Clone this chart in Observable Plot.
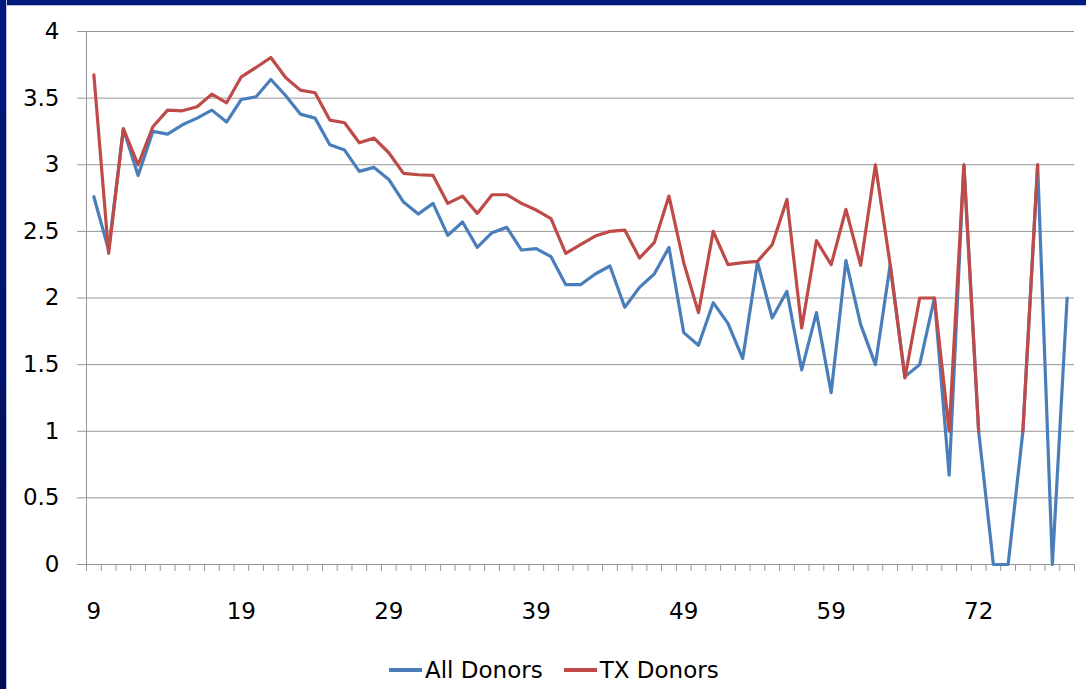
<!DOCTYPE html>
<html>
<head>
<meta charset="utf-8">
<script src="https://cdn.jsdelivr.net/npm/d3@7"></script>
<script src="https://cdn.jsdelivr.net/npm/@observablehq/plot@0.6"></script>
<style>
  html, body { margin: 0; padding: 0; background: #ffffff; width: 1086px; height: 689px; overflow: hidden; font-family: "DejaVu Sans", sans-serif; }
  #chart { position: absolute; left: 0; top: 0; }
  #topbar { position: absolute; left: 0; top: 0; width: 1086px; height: 5px; background: #021a80; border-bottom: 1px solid #b8bfd6; z-index: 5; }
  #leftbar { position: absolute; left: 0; top: 0; width: 6px; height: 689px; background: linear-gradient(#021a80, #000c55); border-right: 1px solid #b8bfd6; z-index: 5; }
  #legend { position: absolute; left: 389px; top: 657px; display: flex; align-items: center; font-size: 23px; color: #000; white-space: nowrap; }
  .sw { display: inline-block; width: 33px; height: 4px; margin-right: 3px; }
  .item { display: flex; align-items: center; }
</style>
</head>
<body>
<div id="chart"></div>
<div id="topbar"></div>
<div id="leftbar"></div>
<div id="legend">
  <div class="item"><span class="sw" style="background:#4A7EBB"></span><span>All Donors</span></div>
  <div class="item" style="margin-left:21px"><span class="sw" style="background:#BE4B48"></span><span>TX Donors</span></div>
</div>
<script>
// Category labels (ages); only every 10th is shown on the axis
const categories = [
  9,10,11,12,13,14,15,16,17,18,
  19,20,21,22,23,24,25,26,27,28,
  29,30,31,32,33,34,35,36,37,38,
  39,40,41,42,43,44,45,46,47,48,
  49,50,51,52,53,54,55,56,57,58,
  59,60,61,62,63,64,65,66,67,69,
  72,73,74,75,76,77,78
];
const allDonors = [
  2.76,2.36,3.27,2.92,3.25,3.23,3.30,3.35,3.41,3.32,
  3.49,3.51,3.64,3.52,3.38,3.35,3.15,3.11,2.95,2.98,
  2.89,2.72,2.63,2.71,2.47,2.57,2.38,2.49,2.53,2.36,
  2.37,2.31,2.10,2.10,2.18,2.24,1.93,2.08,2.18,2.38,
  1.74,1.645,1.965,1.81,1.545,2.27,1.85,2.05,1.46,1.89,
  1.29,2.28,1.80,1.50,2.25,1.41,1.50,2.00,0.67,3.00,
  1.00,0,0,1.00,3.00,0,2.00
];
const txDonors = [
  3.675,2.335,3.27,3.00,3.285,3.41,3.405,3.435,3.53,3.465,
  3.66,3.73,3.805,3.655,3.56,3.54,3.335,3.315,3.165,3.20,
  3.09,2.935,2.925,2.92,2.71,2.765,2.635,2.775,2.775,2.71,
  2.66,2.595,2.335,2.40,2.465,2.50,2.51,2.30,2.415,2.765,
  2.265,1.89,2.50,2.25,2.265,2.275,2.40,2.74,1.775,2.43,
  2.25,2.665,2.245,3.00,2.25,1.40,2.00,2.00,1.00,3.00,
  1.00,null,null,1.00,3.00,null,null
];
const yTicks = [0,0.5,1,1.5,2,2.5,3,3.5,4];
const xLabelIdx = [0,10,20,30,40,50,60];

const rows = categories.map((c, i) => ({i, cat: c, all: allDonors[i], tx: txDonors[i] == null ? NaN : txDonors[i]}));
const n = categories.length;
const boundaries = d3.range(n + 1).map(k => k - 0.5);
const gridColor = "#969696";

const plot = Plot.plot({
  width: 1086,
  height: 640,
  marginLeft: 86,
  marginRight: 12,
  marginTop: 31,
  marginBottom: 76,
  style: {fontFamily: "DejaVu Sans, sans-serif", fontSize: "23px", background: "transparent", color: "#000"},
  x: {type: "linear", domain: [-0.5, n - 0.5], axis: null},
  y: {domain: [0, 4], axis: null},
  marks: [
    Plot.ruleY(yTicks, {stroke: gridColor, strokeWidth: 1}),
    Plot.ruleX([-0.5], {stroke: gridColor, strokeWidth: 1}),
    Plot.axisY({ticks: yTicks, tickSize: 9, tickPadding: 18, tickFormat: d => String(d), stroke: gridColor, fill: "#000", fontSize: 23, label: null}),
    Plot.axisX({ticks: boundaries, tickSize: 7, tickFormat: () => "", stroke: gridColor, label: null}),
    Plot.axisX({ticks: xLabelIdx, tickSize: 0, tickPadding: 38, tickFormat: i => String(categories[i]), fill: "#000", fontSize: 23, label: null}),
    Plot.line(rows, {x: "i", y: "all", stroke: "#4A7EBB", strokeWidth: 3.2, strokeLinejoin: "round"}),
    Plot.line(rows, {x: "i", y: "tx", stroke: "#BE4B48", strokeWidth: 3.2, strokeLinejoin: "round"})
  ]
});
document.getElementById("chart").appendChild(plot);
</script>
</body>
</html>
